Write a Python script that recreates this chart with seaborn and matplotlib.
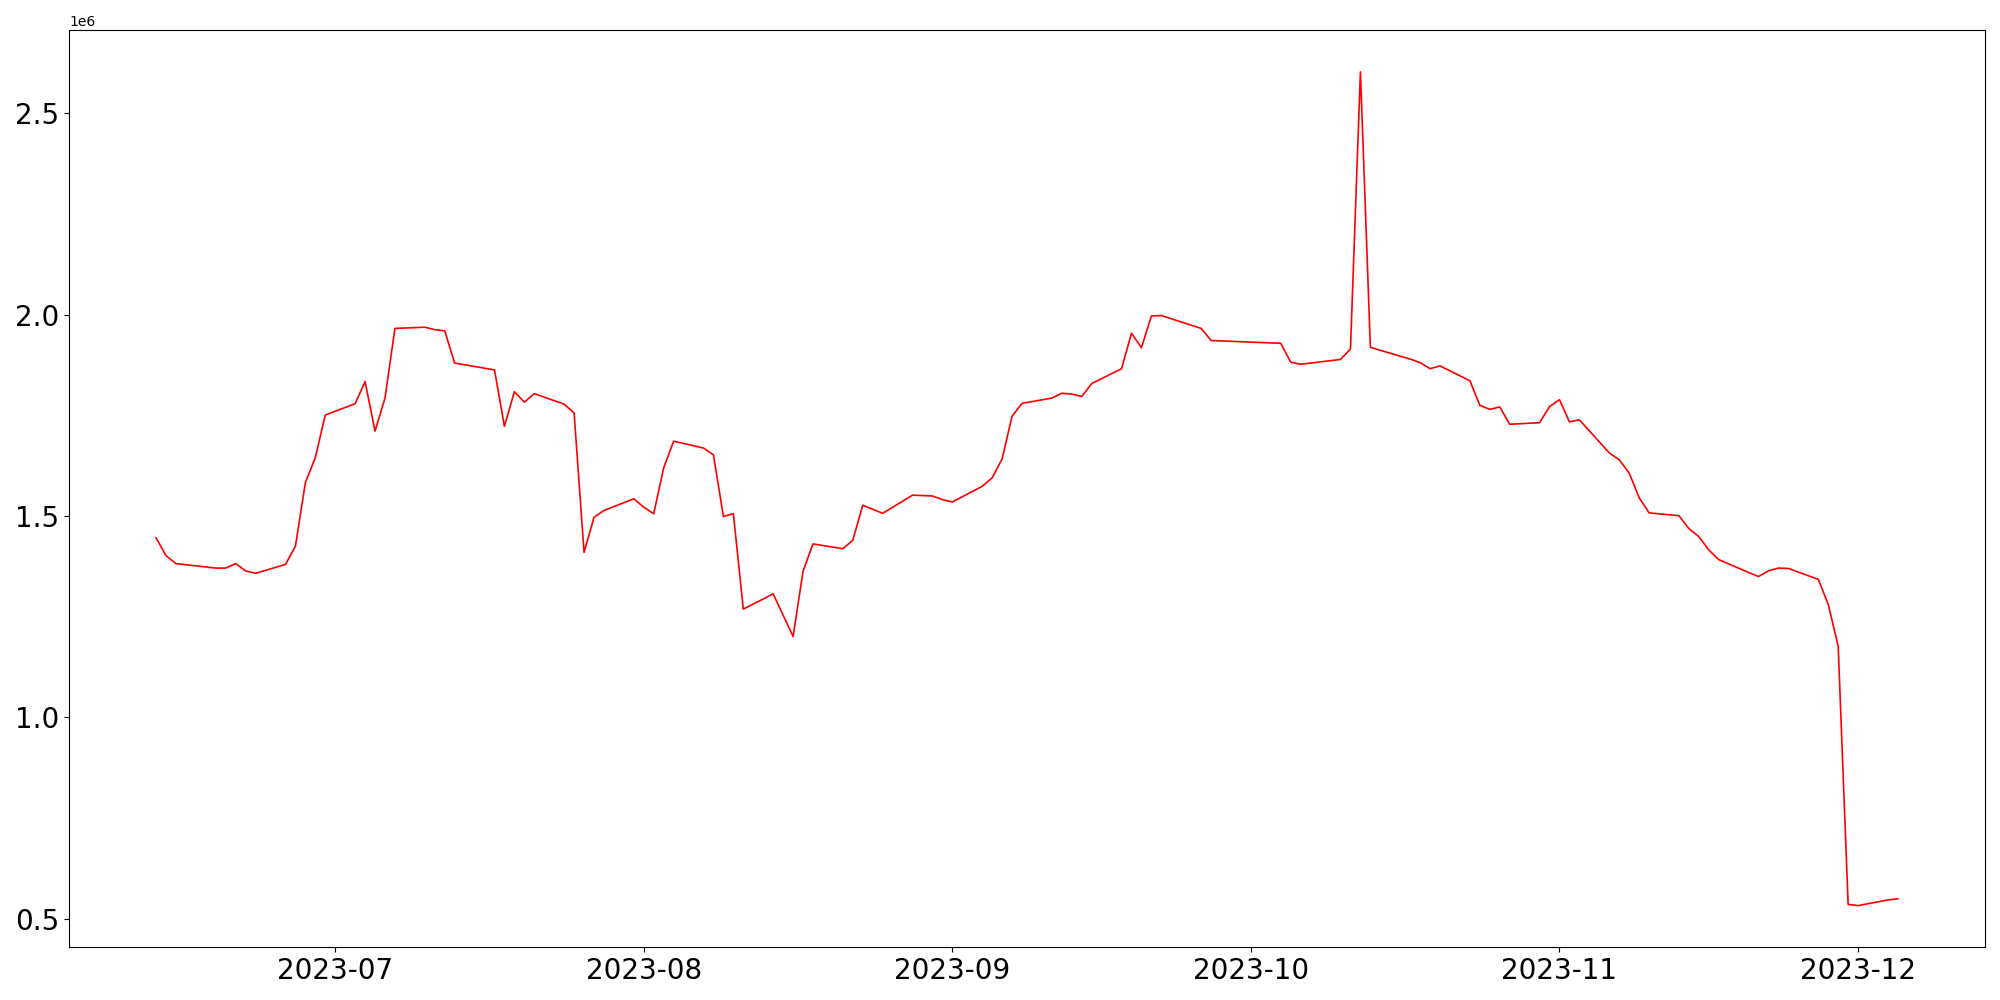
import pandas as pd
import seaborn as sns
import matplotlib
matplotlib.use("Agg")
import matplotlib.pyplot as plt

# Trading days
dates = [
    "2023-06-13", "2023-06-14", "2023-06-15", "2023-06-19", "2023-06-20",
    "2023-06-21", "2023-06-22", "2023-06-23", "2023-06-26", "2023-06-27",
    "2023-06-28", "2023-06-29", "2023-06-30", "2023-07-03", "2023-07-04",
    "2023-07-05", "2023-07-06", "2023-07-07", "2023-07-10", "2023-07-11",
    "2023-07-12", "2023-07-13", "2023-07-17", "2023-07-18", "2023-07-19",
    "2023-07-20", "2023-07-21", "2023-07-24", "2023-07-25", "2023-07-26",
    "2023-07-27", "2023-07-28", "2023-07-31", "2023-08-01", "2023-08-02",
    "2023-08-03", "2023-08-04", "2023-08-07", "2023-08-08", "2023-08-09",
    "2023-08-10", "2023-08-11", "2023-08-14", "2023-08-16", "2023-08-17",
    "2023-08-18", "2023-08-21", "2023-08-22", "2023-08-23", "2023-08-25",
    "2023-08-28", "2023-08-30", "2023-08-31", "2023-09-01", "2023-09-04",
    "2023-09-05", "2023-09-06", "2023-09-07", "2023-09-08", "2023-09-11",
    "2023-09-12", "2023-09-13", "2023-09-14", "2023-09-15", "2023-09-18",
    "2023-09-19", "2023-09-20", "2023-09-21", "2023-09-22", "2023-09-26",
    "2023-09-27", "2023-10-04", "2023-10-05", "2023-10-06", "2023-10-10",
    "2023-10-11", "2023-10-12", "2023-10-13", "2023-10-16", "2023-10-17",
    "2023-10-18", "2023-10-19", "2023-10-20", "2023-10-23", "2023-10-24",
    "2023-10-25", "2023-10-26", "2023-10-27", "2023-10-30", "2023-10-31",
    "2023-11-01", "2023-11-02", "2023-11-03", "2023-11-06", "2023-11-07",
    "2023-11-08", "2023-11-09", "2023-11-10", "2023-11-13", "2023-11-14",
    "2023-11-15", "2023-11-16", "2023-11-17", "2023-11-20", "2023-11-21",
    "2023-11-22", "2023-11-23", "2023-11-24", "2023-11-27", "2023-11-28",
    "2023-11-29", "2023-11-30", "2023-12-01", "2023-12-04", "2023-12-05",
]

values = [
    1.446, 1.402, 1.382, 1.371, 1.371,
    1.382, 1.364, 1.358, 1.380, 1.425,
    1.583, 1.645, 1.751, 1.779, 1.834,
    1.711, 1.793, 1.966, 1.969, 1.963,
    1.960, 1.880, 1.863, 1.723, 1.809,
    1.783, 1.804, 1.778, 1.756, 1.410,
    1.497, 1.514, 1.543, 1.522, 1.506,
    1.620, 1.686, 1.669, 1.652, 1.499,
    1.506, 1.269, 1.307, 1.201, 1.363,
    1.431, 1.419, 1.440, 1.527, 1.507,
    1.552, 1.550, 1.541, 1.535, 1.574,
    1.595, 1.642, 1.748, 1.780, 1.793,
    1.805, 1.803, 1.797, 1.829, 1.866,
    1.954, 1.918, 1.997, 1.998, 1.966,
    1.936, 1.929, 1.882, 1.877, 1.889,
    1.915, 2.603, 1.919, 1.897, 1.890,
    1.881, 1.866, 1.873, 1.836, 1.775,
    1.765, 1.771, 1.728, 1.732, 1.772,
    1.789, 1.734, 1.739, 1.657, 1.640,
    1.607, 1.546, 1.508, 1.501, 1.469,
    1.449, 1.416, 1.392, 1.360, 1.350,
    1.364, 1.371, 1.370, 1.343, 1.281,
    1.177, 0.536, 0.533, 0.547, 0.550,
]

df = pd.DataFrame({
    "date": pd.to_datetime(dates),
    "value": [v * 1e6 for v in values],
})

fig, ax = plt.subplots(figsize=(20, 10), dpi=100)
sns.lineplot(data=df, x="date", y="value", color="red", linewidth=1.2, ax=ax)

ax.set_xlabel("")
ax.set_ylabel("")
ax.tick_params(axis="both", labelsize=20)

plt.tight_layout()
plt.savefig("out.png")
